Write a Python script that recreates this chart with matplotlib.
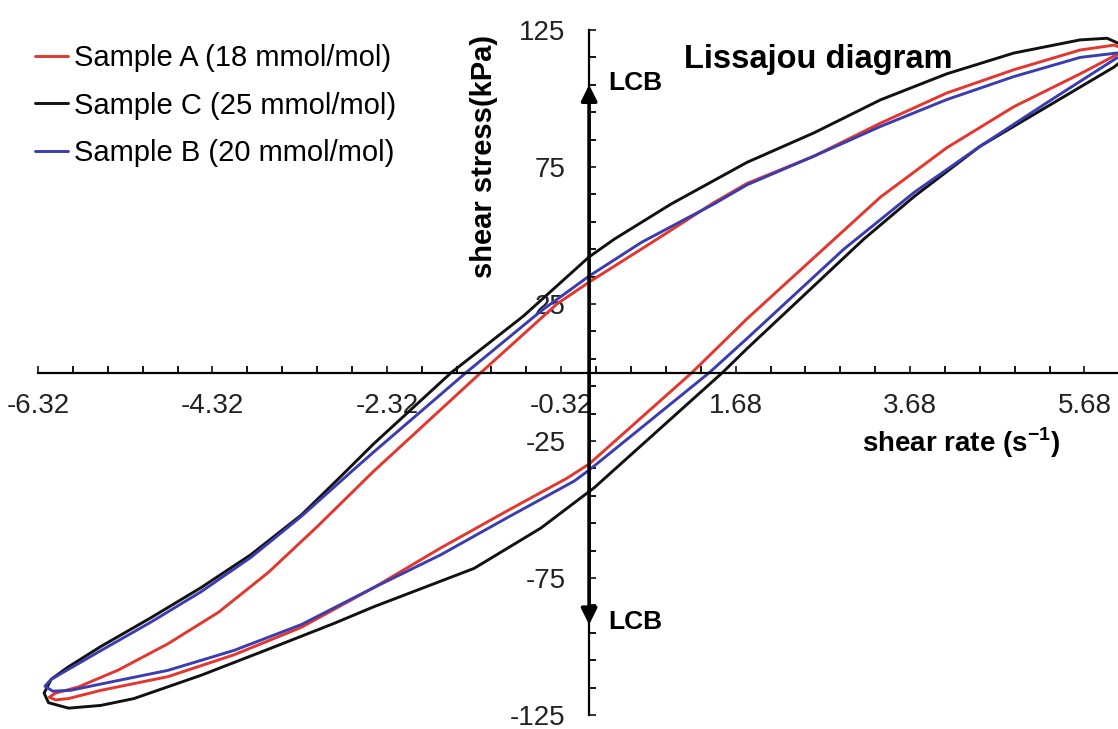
import matplotlib
matplotlib.use('Agg')
import matplotlib.pyplot as plt
from matplotlib.ticker import MultipleLocator, FixedLocator

plt.rcParams['font.family'] = ['Liberation Sans', 'DejaVu Sans']
plt.rcParams['mathtext.fontset'] = 'custom'
plt.rcParams['mathtext.rm'] = 'Liberation Sans'
plt.rcParams['mathtext.bf'] = 'Liberation Sans:bold'

# values: shear rate (1/s) vs shear stress (kPa), one closed loop per sample
rate_a = [6.18, 6.02, 5.63, 4.87, 4.10, 3.34, 2.58, 1.81, 1.43, 0.78, 0.00, -0.37, -1.24,
          -2.47, -3.11, -3.68, -4.25, -4.83, -5.40, -5.86, -6.12, -6.19, -6.12, -5.97,
          -5.60, -4.83, -4.07, -3.30, -2.47, -1.70, -0.94, -0.25, 0.00, 1.18, 1.81, 2.65,
          3.34, 4.10, 4.87, 5.63, 6.05, 6.18]
stress_a = [117.5, 119.5, 117.7, 110.5, 102, 91, 79, 69, 62, 48.7, 33, 25, 0,
            -36, -56, -73, -87.5, -99, -108.6, -114.8, -117, -118.5, -119.5, -119,
            -116, -111, -103, -93, -78.5, -64, -50.5, -38.5, -33.4, 0, 19.6, 44,
            64, 82, 97, 109, 116, 117.5]

rate_c = [6.24, 6.08, 5.94, 5.63, 4.87, 4.10, 3.34, 2.58, 1.81, 0.94, 0.29, 0.00, -0.75,
          -1.58, -2.47, -2.85, -3.30, -3.88, -4.45, -5.02, -5.60, -5.98, -6.17, -6.25,
          -6.20, -5.97, -5.60, -5.22, -4.45, -3.68, -2.92, -2.47, -1.32, -0.55, 0.06, 1.53,
          1.81, 3.15, 3.73, 4.48, 5.25, 6.02, 6.24]
stress_c = [117, 120, 122, 121.4, 116.6, 109, 99.5, 87.5, 76.7, 61.5, 48.7, 42.2, 20.7,
            0, -26, -38, -52, -66.5, -78.5, -89.4, -100, -107.6, -112, -117,
            -120.5, -122.5, -121.5, -119, -110.5, -101, -91.5, -85.5, -71.5, -56.7, -42, 0,
            8.7, 48.7, 64.3, 82.5, 97, 111.5, 117]

rate_b = [6.20, 6.05, 5.63, 4.87, 4.10, 3.34, 2.58, 1.81, 1.43, 0.60, 0.00, -0.55, -1.41,
          -2.47, -2.72, -3.30, -3.88, -4.45, -5.02, -5.60, -5.98, -6.17, -6.24, -6.15,
          -5.95, -5.60, -4.83, -4.07, -3.30, -2.47, -1.70, -0.94, -0.17, 0.00, 1.38,
          1.81, 2.92, 3.73, 4.48, 5.25, 6.05, 6.20]
stress_b = [115.8, 116.6, 115, 108, 99.6, 89.8, 79, 68.5, 61.5, 47.5, 35.2, 22.5, 0,
            -29, -36, -52.5, -67.5, -80, -91, -101.5, -108.5, -112, -114.5, -116.3,
            -116, -113.7, -108.7, -101.4, -92, -78.5, -66.5, -53, -39.6, -35.6, 0,
            12.4, 45, 65.8, 82.5, 98.5, 114.8, 115.8]

labels = ['Sample A (18 mmol/mol)', 'Sample C (25 mmol/mol)', 'Sample B (20 mmol/mol)']
colors = ['#e5362e', '#111111', '#3a3db2']
x_ticks = [-6.32, -4.32, -2.32, -0.32, 1.68, 3.68, 5.68]
y_ticks = [-125, -75, -25, 25, 75, 125]

fig = plt.figure(figsize=(11.18, 7.29), dpi=100)
ax = fig.add_axes([0.034, 0.0192, 0.966, 0.9396])

for xs, ys, lab, col in zip([rate_a, rate_c, rate_b], [stress_a, stress_c, stress_b], labels, colors):
    ax.plot(xs, ys, color=col, lw=2.1, label=lab, solid_joinstyle='round', solid_capstyle='round')

ax.set_xlim(-6.32, 6.065)
ax.set_ylim(-125, 125)

# axes cross at the origin
ax.spines['left'].set_position(('data', 0))
ax.spines['bottom'].set_position(('data', 0))
ax.spines['top'].set_visible(False)
ax.spines['right'].set_visible(False)
ax.spines['left'].set_linewidth(1.6)
ax.spines['bottom'].set_linewidth(1.6)

ax.xaxis.set_major_locator(FixedLocator(x_ticks))
ax.set_xticklabels(['%.2f' % v for v in x_ticks])
ax.xaxis.set_minor_locator(MultipleLocator(0.4, offset=0.08))
ax.yaxis.set_major_locator(FixedLocator(y_ticks))
ax.set_yticklabels([str(v) for v in y_ticks])
ax.yaxis.set_minor_locator(MultipleLocator(10, offset=5))
ax.tick_params(which='both', direction='in', length=5, width=1.3)
ax.tick_params(axis='x', labelsize=20, pad=15, colors='#222222')
ax.tick_params(axis='y', labelsize=20, pad=17, colors='#222222')

# LCB arrow along the stress axis
ax.annotate('', xy=(0, 105), xytext=(0, -92),
            arrowprops=dict(arrowstyle='<|-|>', color='black', lw=2.6,
                            mutation_scale=24, shrinkA=0, shrinkB=0), zorder=3)
ax.text(0.22, 105.7, 'LCB', fontsize=19, fontweight='bold', ha='left', va='center')
ax.text(0.22, -91.2, 'LCB', fontsize=19, fontweight='bold', ha='left', va='center')

ax.text(1.09, 111.2, 'Lissajou diagram', fontsize=23.5, fontweight='bold', ha='left', va='baseline')
ax.text(4.27, -25.8, r'shear rate (s$^{\mathbf{-1}}$)', fontsize=20, fontweight='bold',
        ha='center', va='center')
ax.text(-1.20, 78.9, 'shear stress(kPa)', rotation=90, fontsize=21, fontweight='bold',
        ha='center', va='center')

ax.legend(loc='upper left', bbox_to_anchor=(0.031, 0.94), bbox_transform=fig.transFigure,
          frameon=False, fontsize=21, handlelength=1.15, handletextpad=0.2,
          labelspacing=0.68, borderaxespad=0, borderpad=0)

fig.savefig('out.png', dpi=100)
plt.close(fig)
